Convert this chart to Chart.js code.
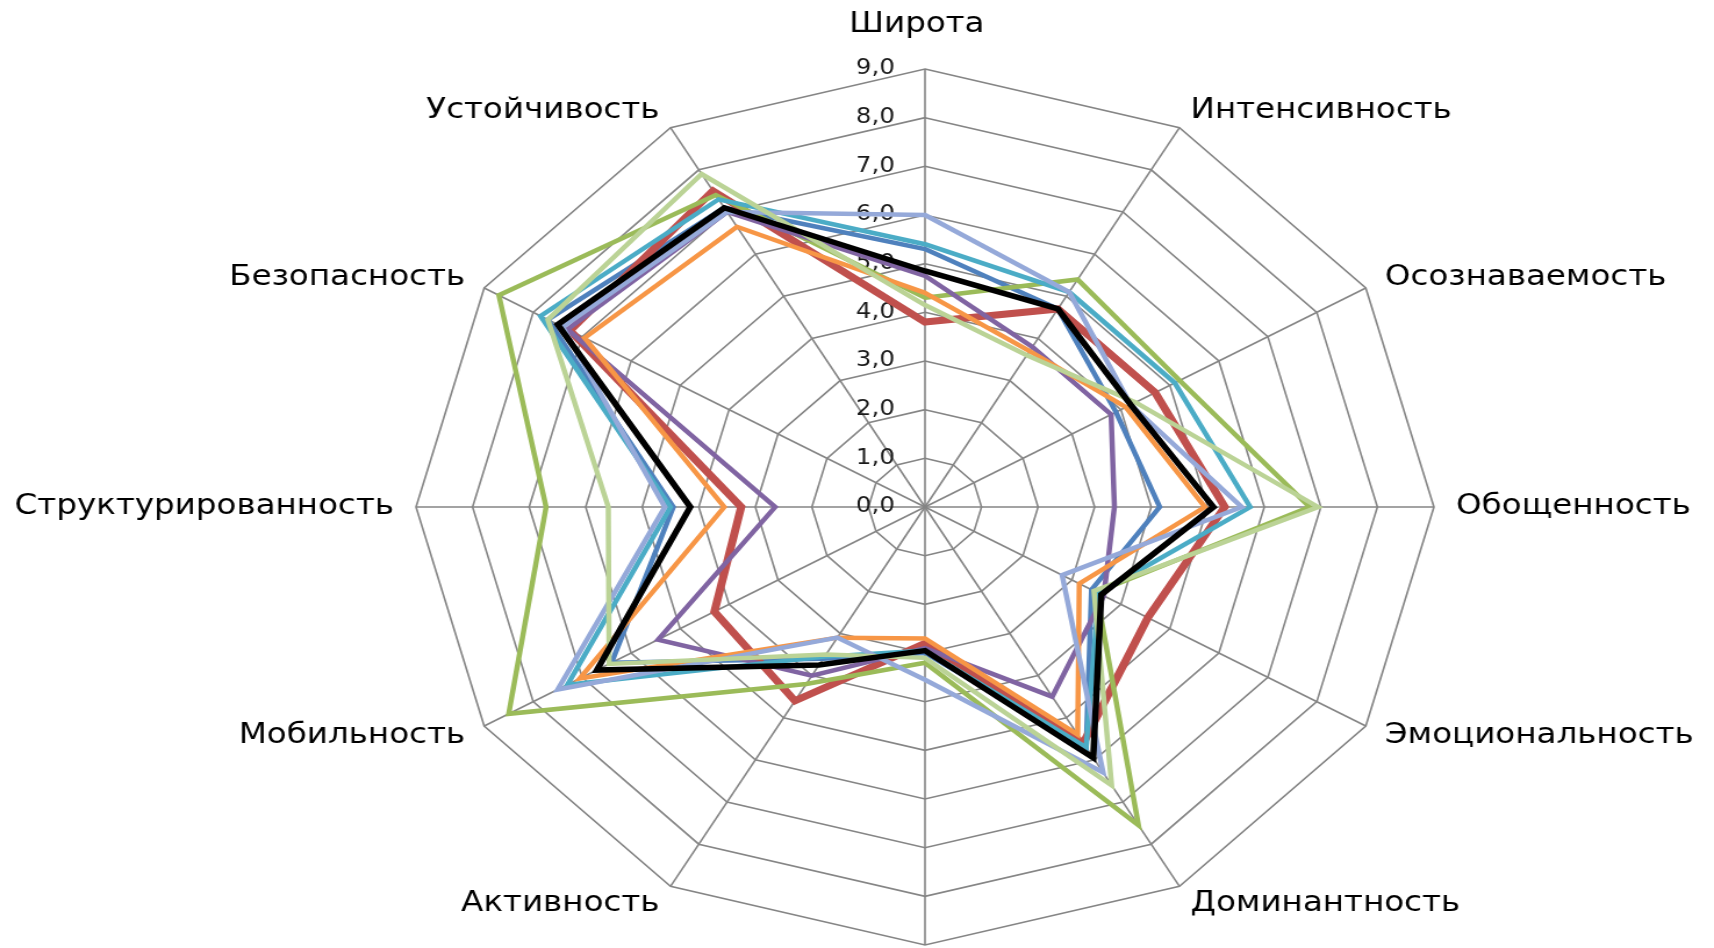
<!DOCTYPE html>
<html>
<head>
<meta charset="utf-8">
<script src="https://cdn.jsdelivr.net/npm/chart.js@4/dist/chart.umd.min.js"></script>
<style>
  html, body { margin: 0; padding: 0; background: #fff; overflow: hidden; }
</style>
</head>
<body>
<!-- the source picture is stretched sideways, so the canvas is too -->
<canvas id="myChart" width="1475" height="948" style="display:block;width:1714px;height:948px;"></canvas>
<script>
// axes clockwise from the top; the bottom axis name is cut off in the source
var labels = ['Широта', 'Интенсивность', 'Осознаваемость', 'Обощенность', 'Эмоциональность',
  'Доминантность', '', 'Активность', 'Мобильность', 'Структурированность', 'Безопасность', 'Устойчивость'];

var seriesBlack      = [4.85, 4.7, 4.2, 5.1, 3.6, 5.95, 2.95, 3.75, 6.7, 4.15, 7.5, 7.1];
var seriesRed        = [3.8, 4.7, 4.7, 5.3, 4.55, 5.6, 2.8, 4.6, 4.3, 3.25, 7.25, 7.5];
var seriesBlue       = [5.3, 4.7, 3.9, 4.15, 3.4, 5.7, 3.0, 3.6, 6.4, 4.45, 7.7, 7.1];
var seriesPurple     = [4.75, 3.8, 3.8, 3.35, 3.65, 4.5, 2.9, 4.0, 5.45, 2.65, 7.3, 7.0];
var seriesTeal       = [5.4, 5.1, 5.1, 5.75, 3.55, 5.7, 2.95, 3.55, 7.3, 4.5, 7.85, 7.3];
var seriesOrange     = [4.4, 3.7, 4.1, 4.95, 3.15, 5.4, 2.7, 3.1, 7.05, 3.55, 6.95, 6.65];
var seriesLightBlue  = [6.0, 5.1, 4.2, 5.6, 2.8, 6.3, 3.55, 3.1, 7.5, 4.6, 7.4, 7.0];
var seriesGreen      = [4.3, 5.4, 5.2, 6.8, 3.5, 7.55, 3.2, 4.2, 8.5, 6.7, 8.7, 7.4];
var seriesLightGreen = [4.15, 3.6, 4.3, 6.95, 3.45, 6.6, 3.1, 3.5, 6.45, 5.6, 7.7, 7.9];

var scaleMin = 0, scaleMax = 9, scaleStep = 1;

// where the web sits on the (unstretched) canvas
var CX = 796, CY = 507, R = 438;

function fmt(v) {
  return v.toFixed(1).replace('.', ',');
}

function line(data, color, width) {
  return { data: data, borderColor: color, borderWidth: width, fill: false, pointRadius: 0 };
}

var axisText = {
  id: 'axisText',
  beforeDatasetsDraw: function(chart) {
    var scale = chart.scales.r, ctx = chart.ctx;
    ctx.save();
    ctx.font = '21px "DejaVu Sans"';
    ctx.fillStyle = '#1a1a1a';
    ctx.textAlign = 'right';
    ctx.textBaseline = 'middle';
    scale.ticks.forEach(function(t) {
      var p = scale.getPointPositionForValue(0, t.value);
      ctx.fillText(fmt(t.value), p.x - 26, p.y);
    });
    ctx.restore();
  },
  afterDraw: function(chart) {
    var scale = chart.scales.r, ctx = chart.ctx;
    ctx.save();
    ctx.font = '28px "DejaVu Sans"';
    ctx.fillStyle = '#000';
    ctx.textBaseline = 'middle';
    labels.forEach(function(name, i) {
      if (!name) return;
      var a = i * Math.PI * 2 / labels.length;
      var s = Math.sin(a), c = Math.cos(a);
      var p = scale.getPointPosition(i, scale.drawingArea);
      var x = p.x + 19 * s, y = p.y - 20 * c;
      if (Math.abs(s) < 0.01) {
        ctx.textAlign = 'center';
        x = p.x - 7;
        y = p.y - 44;
      } else {
        ctx.textAlign = s > 0 ? 'left' : 'right';
      }
      ctx.fillText(name, x, y);
    });
    ctx.restore();
  }
};

var ctx = document.getElementById('myChart').getContext('2d');
var myChart = new Chart(ctx, {
  type: 'radar',
  data: {
    labels: labels,
    datasets: [
      line(seriesBlack, '#000000', 5.5),
      line(seriesLightGreen, '#BBD396', 4.5),
      line(seriesLightBlue, '#95A9D9', 4.5),
      line(seriesOrange, '#F79646', 4.5),
      line(seriesTeal, '#4BACC6', 4.5),
      line(seriesPurple, '#8064A2', 4.5),
      line(seriesGreen, '#9BBB59', 4.5),
      line(seriesRed, '#C0504D', 7),
      line(seriesBlue, '#4F81BD', 4.5)
    ]
  },
  options: {
    responsive: false,
    devicePixelRatio: 1,
    animation: false,
    plugins: { legend: { display: false }, tooltip: { enabled: false } },
    elements: { line: { tension: 0 } },
    scales: {
      r: {
        min: scaleMin,
        max: scaleMax,
        ticks: { stepSize: scaleStep, display: false },
        grid: { color: '#858585', lineWidth: 1.6 },
        angleLines: { color: '#858585', lineWidth: 1.6 },
        pointLabels: { display: false },
        afterFit: function(scale) {
          scale.xCenter = CX;
          scale.yCenter = CY;
          scale.drawingArea = R;
        }
      }
    }
  },
  plugins: [axisText]
});
</script>
</body>
</html>
